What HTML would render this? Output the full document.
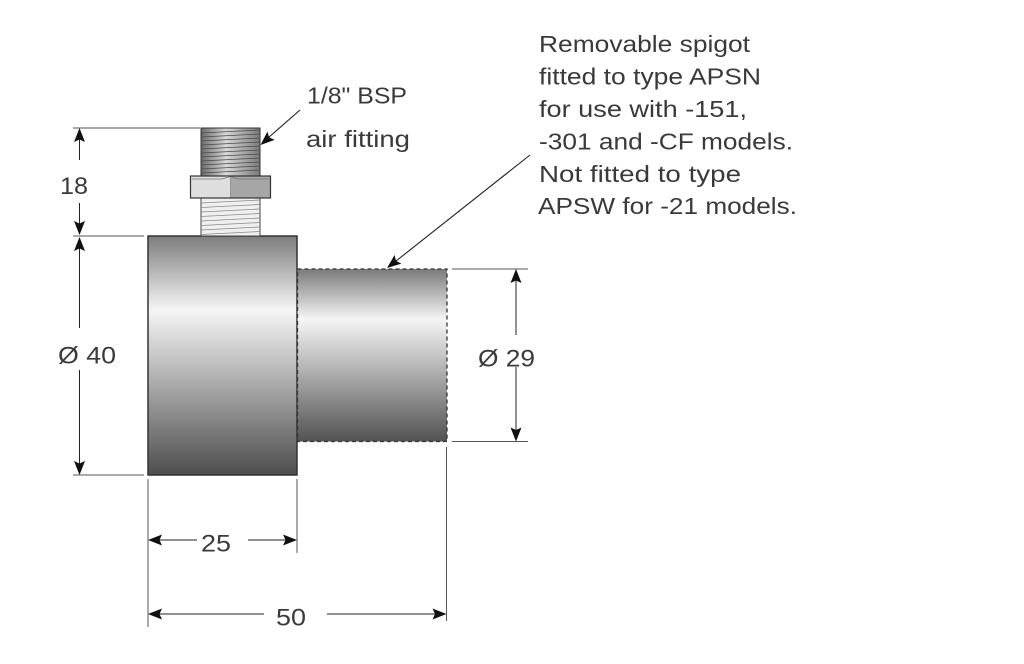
<!DOCTYPE html>
<html>
<head>
<meta charset="utf-8">
<style>
  html, body { margin:0; padding:0; background:#ffffff; }
  svg { display:block; }
  text { font-family: "Liberation Sans", "DejaVu Sans", sans-serif; fill:#3a3a3a; }
</style>
</head>
<body>
<svg width="1024" height="664" viewBox="0 0 1024 664" xmlns="http://www.w3.org/2000/svg">
  <defs>
    <linearGradient id="bodyG" x1="0" y1="0" x2="0" y2="1">
      <stop offset="0" stop-color="#7d7d7d"/>
      <stop offset="0.31" stop-color="#f5f5f5"/>
      <stop offset="1" stop-color="#4e4e4e"/>
    </linearGradient>
    <linearGradient id="spigG" x1="0" y1="0" x2="0" y2="1">
      <stop offset="0" stop-color="#7a7a7a"/>
      <stop offset="0.29" stop-color="#f5f5f5"/>
      <stop offset="1" stop-color="#535353"/>
    </linearGradient>
    <linearGradient id="thrG" x1="0" y1="0" x2="1" y2="0">
      <stop offset="0" stop-color="#6a6a6a"/>
      <stop offset="0.42" stop-color="#d8d8d8"/>
      <stop offset="1" stop-color="#7a7a7a"/>
    </linearGradient>
    <path id="ah" d="M0 0 L5.5 14 L0 11.5 L-5.5 14 Z" fill="#111"/>
  </defs>

  <rect width="1024" height="664" fill="#ffffff"/>

  <!-- Body -->
  <rect x="148" y="236" width="149" height="239" fill="url(#bodyG)" stroke="#333" stroke-width="1.5"/>

  <!-- Spigot -->
  <rect x="297.5" y="269" width="149.5" height="172.5" fill="url(#spigG)" stroke="#333" stroke-width="1.3" stroke-dasharray="4 3"/>

  <!-- Upper thread -->
  <rect x="201" y="128" width="59" height="48" fill="url(#thrG)" stroke="#333" stroke-width="1"/>
  <g stroke="#4a4a4a" stroke-width="0.8">
    <line x1="201" y1="133" x2="260" y2="130"/>
    <line x1="201" y1="137" x2="260" y2="134"/>
    <line x1="201" y1="141" x2="260" y2="138"/>
    <line x1="201" y1="145" x2="260" y2="142"/>
    <line x1="201" y1="149" x2="260" y2="146"/>
    <line x1="201" y1="153" x2="260" y2="150"/>
    <line x1="201" y1="157" x2="260" y2="154"/>
    <line x1="201" y1="161" x2="260" y2="158"/>
    <line x1="201" y1="165" x2="260" y2="162"/>
    <line x1="201" y1="169" x2="260" y2="166"/>
    <line x1="201" y1="173" x2="260" y2="170"/>
  </g>

  <!-- Lower thread -->
  <rect x="201" y="197" width="59" height="39" fill="#efefef" stroke="#444" stroke-width="1"/>
  <g stroke="#8a8a8a" stroke-width="0.8">
    <line x1="201" y1="203" x2="260" y2="200"/>
    <line x1="201" y1="207.5" x2="260" y2="204.5"/>
    <line x1="201" y1="212" x2="260" y2="209"/>
    <line x1="201" y1="216.5" x2="260" y2="213.5"/>
    <line x1="201" y1="221" x2="260" y2="218"/>
    <line x1="201" y1="225.5" x2="260" y2="222.5"/>
    <line x1="201" y1="230" x2="260" y2="227"/>
    <line x1="201" y1="234.5" x2="260" y2="231.5"/>
  </g>

  <!-- Nut -->
  <rect x="190.5" y="176" width="40" height="22" fill="#dedede"/>
  <rect x="230.5" y="176" width="40" height="22" fill="#a6a6a6"/>
  <polyline points="190.5,176 270.5,176" stroke="#333" stroke-width="1" fill="none"/>
  <polyline points="192,179 222,179 230.5,176.5 238,179 269,179" stroke="#777" stroke-width="0.8" fill="none"/>
  <line x1="230.5" y1="177" x2="230.5" y2="198" stroke="#888" stroke-width="0.8"/>
  <rect x="190.5" y="176" width="80" height="22" fill="none" stroke="#333" stroke-width="1.2"/>

  <!-- Extension lines -->
  <g stroke="#555" stroke-width="1">
    <line x1="73" y1="128" x2="200" y2="128"/>
    <line x1="73" y1="236" x2="144" y2="236"/>
    <line x1="73" y1="475" x2="144" y2="475"/>
    <line x1="452" y1="269" x2="528" y2="269"/>
    <line x1="452" y1="441.5" x2="528" y2="441.5"/>
    <line x1="148" y1="479" x2="148" y2="627"/>
    <line x1="297" y1="479" x2="297" y2="553"/>
    <line x1="446.5" y1="447" x2="446.5" y2="621"/>
  </g>

  <!-- Dimension lines -->
  <g stroke="#222" stroke-width="1">
    <line x1="79.5" y1="130" x2="79.5" y2="160"/>
    <line x1="79.5" y1="203" x2="79.5" y2="234"/>
    <line x1="79.5" y1="238" x2="79.5" y2="328"/>
    <line x1="79.5" y1="370" x2="79.5" y2="473"/>
    <line x1="516" y1="271" x2="516" y2="335"/>
    <line x1="516" y1="367" x2="516" y2="440"/>
    <line x1="150" y1="540" x2="197" y2="540"/>
    <line x1="248" y1="540" x2="295" y2="540"/>
    <line x1="150" y1="614" x2="264" y2="614"/>
    <line x1="327" y1="614" x2="445" y2="614"/>
  </g>

  <!-- Arrowheads -->
  <use href="#ah" transform="translate(79.5,128)"/>
  <use href="#ah" transform="translate(79.5,235) rotate(180)"/>
  <use href="#ah" transform="translate(79.5,237)"/>
  <use href="#ah" transform="translate(79.5,475) rotate(180)"/>
  <use href="#ah" transform="translate(516,269)"/>
  <use href="#ah" transform="translate(516,441.5) rotate(180)"/>
  <use href="#ah" transform="translate(148,540) rotate(-90)"/>
  <use href="#ah" transform="translate(297,540) rotate(90)"/>
  <use href="#ah" transform="translate(148,614) rotate(-90)"/>
  <use href="#ah" transform="translate(446.5,614) rotate(90)"/>

  <!-- Leaders -->
  <line x1="300" y1="110" x2="264" y2="141.5" stroke="#222" stroke-width="1.1"/>
  <use href="#ah" transform="translate(260.5,145) rotate(-131.2)"/>
  <line x1="530" y1="155" x2="391" y2="265" stroke="#222" stroke-width="1.1"/>
  <use href="#ah" transform="translate(387,268) rotate(-128.3)"/>

  <!-- Callout texts -->
  <text x="307" y="103.5" font-size="23" textLength="100" lengthAdjust="spacingAndGlyphs">1/8" BSP</text>
  <text x="306" y="147" font-size="23" textLength="104" lengthAdjust="spacingAndGlyphs">air fitting</text>

  <text x="539" y="52" font-size="23" textLength="211" lengthAdjust="spacingAndGlyphs">Removable spigot</text>
  <text x="539" y="84.5" font-size="23" textLength="222" lengthAdjust="spacingAndGlyphs">fitted to type APSN</text>
  <text x="539" y="117" font-size="23" textLength="208" lengthAdjust="spacingAndGlyphs">for use with -151,</text>
  <text x="539" y="149.5" font-size="23" textLength="254" lengthAdjust="spacingAndGlyphs">-301 and -CF models.</text>
  <text x="539" y="182" font-size="23" textLength="202" lengthAdjust="spacingAndGlyphs">Not fitted to type</text>
  <text x="538" y="214" font-size="23" textLength="259" lengthAdjust="spacingAndGlyphs">APSW for -21 models.</text>

  <!-- Dimension texts -->
  <text x="60" y="194" font-size="24" textLength="28" lengthAdjust="spacingAndGlyphs">18</text>
  <text x="58" y="363.5" font-size="24" textLength="58" lengthAdjust="spacingAndGlyphs">Ø 40</text>
  <text x="478" y="366.5" font-size="24" textLength="57" lengthAdjust="spacingAndGlyphs">Ø 29</text>
  <text x="201" y="551.5" font-size="24" textLength="30" lengthAdjust="spacingAndGlyphs">25</text>
  <text x="276" y="625.5" font-size="24" textLength="30" lengthAdjust="spacingAndGlyphs">50</text>
</svg>
</body>
</html>
